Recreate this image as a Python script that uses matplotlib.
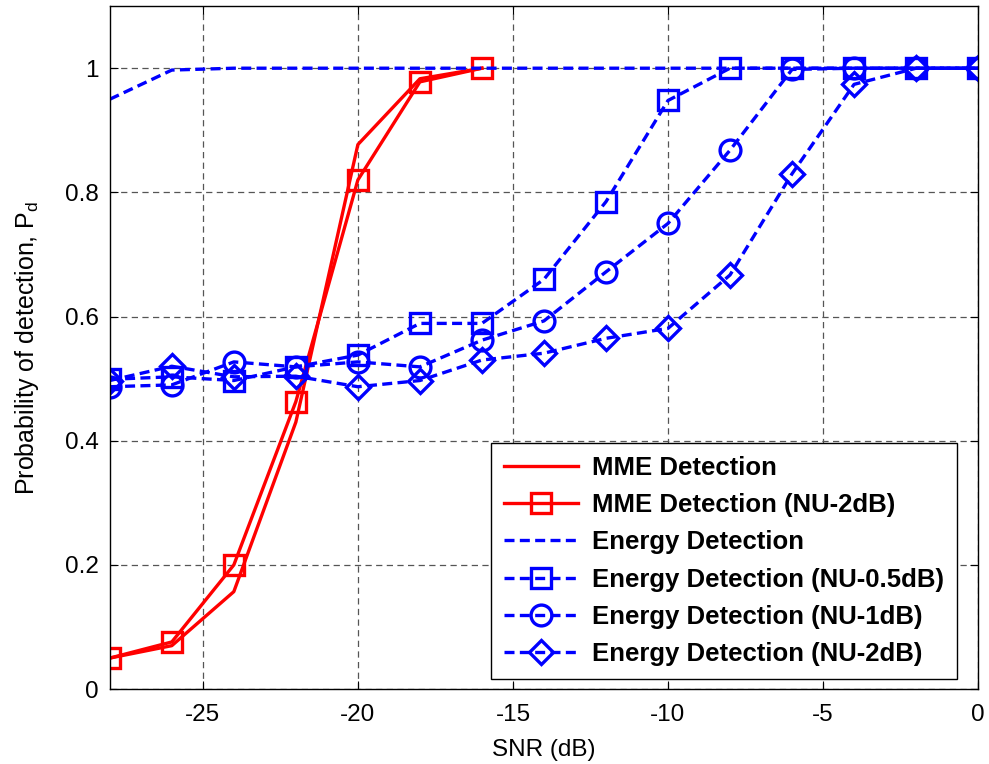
import matplotlib
matplotlib.use("Agg")
import matplotlib.pyplot as plt

plt.rcParams["font.family"] = ["Liberation Sans", "DejaVu Sans"]
plt.rcParams["axes.unicode_minus"] = False

snr = [-28, -26, -24, -22, -20, -18, -16, -14, -12, -10, -8, -6, -4, -2, 0]

# MME curves only span -28 .. -16 dB
mme_snr = snr[:7]
mme = [0.05, 0.07, 0.157, 0.43, 0.877, 0.983, 1.0]
mme_nu2 = [0.05, 0.076, 0.20, 0.463, 0.82, 0.978, 1.0]

energy = [0.95, 0.997, 1.0, 1.0, 1.0, 1.0, 1.0, 1.0, 1.0, 1.0, 1.0, 1.0, 1.0, 1.0, 1.0]
energy_nu05 = [0.499, 0.503, 0.497, 0.519, 0.538, 0.589, 0.589, 0.66, 0.785, 0.948,
               1.0, 1.0, 1.0, 1.0, 1.0]
energy_nu1 = [0.487, 0.49, 0.527, 0.519, 0.527, 0.519, 0.562, 0.593, 0.672, 0.75,
              0.868, 0.998, 1.0, 1.0, 1.0]
energy_nu2 = [0.497, 0.52, 0.503, 0.504, 0.487, 0.497, 0.53, 0.541, 0.565, 0.581,
              0.667, 0.83, 0.974, 1.0, 1.0]

labels = ["MME Detection", "MME Detection (NU-2dB)", "Energy Detection",
          "Energy Detection (NU-0.5dB)", "Energy Detection (NU-1dB)",
          "Energy Detection (NU-2dB)"]

RED = "#ff0000"
BLUE = "#0000ff"
GRIDC = "#555555"
DASH = (3.0, 1.6)

fig = plt.figure(figsize=(9.89, 7.64), dpi=100)
ax = fig.add_axes([0.111, 0.098, 0.878, 0.894])

lw = 2.4
mew = 2.4
ax.plot(mme_snr, mme, color=RED, lw=lw, label=labels[0])
ax.plot(mme_snr, mme_nu2, color=RED, lw=lw, marker="s", ms=15, mfc="none",
        mec=RED, mew=mew, label=labels[1])
ax.plot(snr, energy, color=BLUE, lw=lw, dashes=DASH, label=labels[2])
ax.plot(snr, energy_nu05, color=BLUE, lw=lw, dashes=DASH, marker="s", ms=15,
        mfc="none", mec=BLUE, mew=mew, label=labels[3])
ax.plot(snr, energy_nu1, color=BLUE, lw=lw, dashes=DASH, marker="o", ms=15,
        mfc="none", mec=BLUE, mew=mew, label=labels[4])
ax.plot(snr, energy_nu2, color=BLUE, lw=lw, dashes=DASH, marker="D", ms=12.5,
        mfc="none", mec=BLUE, mew=mew, label=labels[5])

ax.set_xlim(-28, 0)
ax.set_ylim(0, 1.1)
ax.set_xticks([-25, -20, -15, -10, -5, 0])
ax.set_yticks([0, 0.2, 0.4, 0.6, 0.8, 1.0])
ax.set_yticklabels(["0", "0.2", "0.4", "0.6", "0.8", "1"])
ax.tick_params(direction="in", top=True, right=True, length=6, width=0.8,
               labelsize=17.5, pad=8)
ax.tick_params(axis="x", pad=11)
ax.grid(True, color=GRIDC, linestyle=(0, (5, 3.5)), linewidth=0.9)
for sp in ax.spines.values():
    sp.set_linewidth(1.0)

ax.set_xlabel("SNR (dB)", fontsize=17.5)
ax.xaxis.set_label_coords(0.5, -0.073)
ax.set_ylabel("Probability of detection, P$_\\mathregular{d}$", fontsize=18)
ax.yaxis.set_label_coords(-0.079, 0.5)

leg = ax.legend(loc="lower right", bbox_to_anchor=(0.9758, 0.0146),
                prop={"weight": "bold", "size": 18.5}, frameon=True, fancybox=False,
                edgecolor="black", framealpha=1, handlelength=2.9,
                labelspacing=0.52, borderpad=0.5, handletextpad=0.55,
                borderaxespad=0.0)
leg.get_frame().set_linewidth(1.0)

fig.savefig("out.png", dpi=100, facecolor="white")
